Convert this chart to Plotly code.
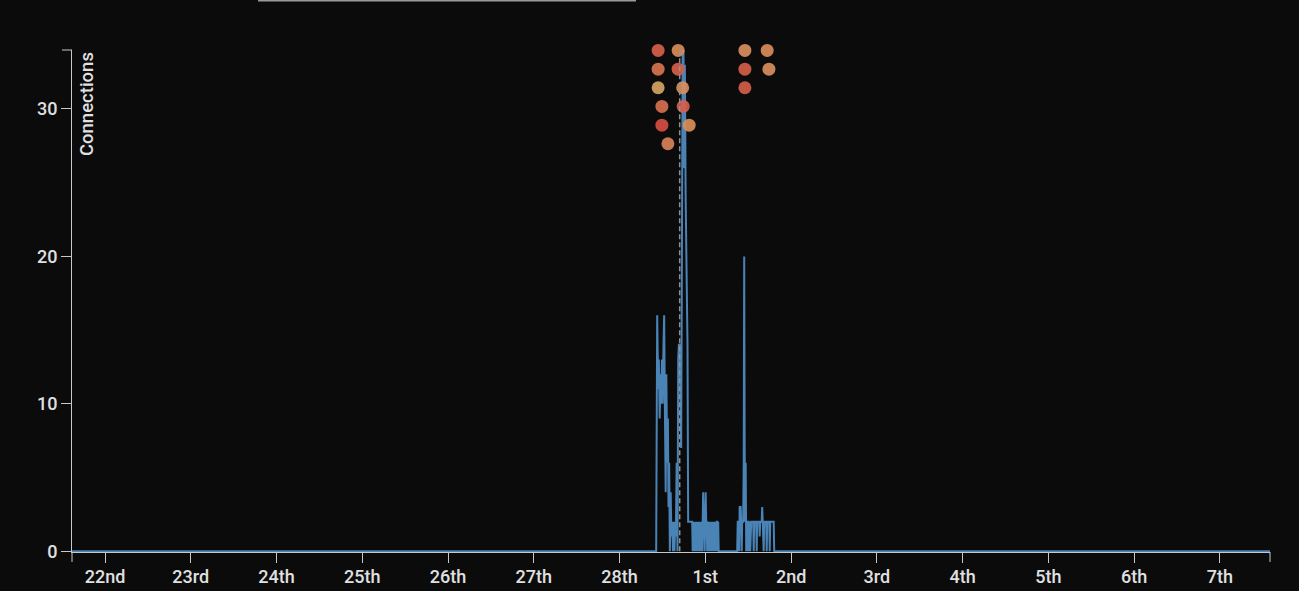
import plotly.graph_objects as go
import pandas as pd

# ---- data ----
series_times = [
    "2023-02-21 14:46",
    "2023-02-28 10:14", "2023-02-28 10:31", "2023-02-28 10:48", "2023-02-28 10:59",
    "2023-02-28 11:13", "2023-02-28 11:26", "2023-02-28 11:38", "2023-02-28 11:51",
    "2023-02-28 12:03", "2023-02-28 12:17", "2023-02-28 12:28", "2023-02-28 12:42",
    "2023-02-28 12:54", "2023-02-28 13:05", "2023-02-28 13:19", "2023-02-28 13:31",
    "2023-02-28 13:41", "2023-02-28 13:52", "2023-02-28 14:04", "2023-02-28 14:18",
    "2023-02-28 14:29", "2023-02-28 14:43", "2023-02-28 14:56", "2023-02-28 15:08",
    "2023-02-28 15:21", "2023-02-28 15:33", "2023-02-28 15:45", "2023-02-28 15:58",
    "2023-02-28 16:12", "2023-02-28 16:24", "2023-02-28 16:35", "2023-02-28 16:49",
    "2023-02-28 17:02", "2023-02-28 17:14", "2023-02-28 17:39", "2023-02-28 17:53",
    "2023-02-28 18:04", "2023-02-28 18:16", "2023-02-28 18:29", "2023-02-28 18:43",
    "2023-02-28 19:00", "2023-02-28 19:11", "2023-02-28 19:30", "2023-02-28 19:50",
    "2023-02-28 20:19", "2023-02-28 20:27", "2023-02-28 20:35", "2023-02-28 20:44",
    "2023-02-28 20:52", "2023-02-28 21:01", "2023-02-28 21:09", "2023-02-28 21:17",
    "2023-02-28 21:26", "2023-02-28 21:34", "2023-02-28 21:43", "2023-02-28 21:51",
    "2023-02-28 21:59", "2023-02-28 22:08", "2023-02-28 22:16", "2023-02-28 22:25",
    "2023-02-28 22:33", "2023-02-28 22:41", "2023-02-28 22:50", "2023-02-28 22:58",
    "2023-02-28 23:07", "2023-02-28 23:15", "2023-02-28 23:23", "2023-02-28 23:32",
    "2023-02-28 23:40", "2023-02-28 23:48", "2023-02-28 23:57", "2023-03-01 00:05",
    "2023-03-01 00:14", "2023-03-01 00:22", "2023-03-01 00:30", "2023-03-01 00:39",
    "2023-03-01 00:47", "2023-03-01 00:56", "2023-03-01 01:04", "2023-03-01 01:12",
    "2023-03-01 01:21", "2023-03-01 01:29", "2023-03-01 01:38", "2023-03-01 01:46",
    "2023-03-01 01:55", "2023-03-01 02:03", "2023-03-01 02:11", "2023-03-01 02:20",
    "2023-03-01 02:28", "2023-03-01 02:36", "2023-03-01 02:45", "2023-03-01 02:53",
    "2023-03-01 03:02", "2023-03-01 03:10", "2023-03-01 03:19", "2023-03-01 03:27",
    "2023-03-01 03:35", "2023-03-01 03:44",
    "2023-03-01 08:54", "2023-03-01 09:03", "2023-03-01 09:20", "2023-03-01 09:28",
    "2023-03-01 09:36", "2023-03-01 09:53", "2023-03-01 10:02", "2023-03-01 10:10",
    "2023-03-01 10:18", "2023-03-01 10:35", "2023-03-01 10:44", "2023-03-01 10:52",
    "2023-03-01 11:00", "2023-03-01 11:09", "2023-03-01 11:17", "2023-03-01 11:26",
    "2023-03-01 11:34", "2023-03-01 11:42", "2023-03-01 11:51", "2023-03-01 12:08",
    "2023-03-01 12:16", "2023-03-01 12:24", "2023-03-01 12:33", "2023-03-01 12:50",
    "2023-03-01 13:06", "2023-03-01 13:23", "2023-03-01 13:32", "2023-03-01 13:40",
    "2023-03-01 13:57", "2023-03-01 14:13", "2023-03-01 14:22", "2023-03-01 14:30",
    "2023-03-01 14:47", "2023-03-01 15:04", "2023-03-01 15:12", "2023-03-01 15:21",
    "2023-03-01 15:46", "2023-03-01 15:54", "2023-03-01 16:03", "2023-03-01 16:19",
    "2023-03-01 16:28", "2023-03-01 16:45", "2023-03-01 17:01", "2023-03-01 17:10",
    "2023-03-01 17:18", "2023-03-01 17:35", "2023-03-01 17:52", "2023-03-01 18:00",
    "2023-03-01 18:09", "2023-03-01 18:30", "2023-03-01 18:50", "2023-03-01 19:07",
    "2023-03-01 19:16",
    "2023-03-07 14:00",
]
connections = [
    0,
    0, 16, 11, 13,
    9, 12, 10, 13,
    10, 14, 16, 9,
    4, 12, 6, 9,
    3, 6, 0, 4,
    1, 2, 0, 2,
    0, 2, 1, 6,
    0, 13, 14, 14,
    7, 7, 34, 34,
    26, 33, 24, 17,
    14, 2, 2, 2,
    2, 0, 2, 2,
    0, 2, 0, 2,
    2, 0, 2, 0,
    2, 2, 0, 2,
    0, 2, 0, 2,
    0, 2, 4, 2,
    2, 0, 2, 4,
    2, 2, 0, 2,
    0, 2, 2, 0,
    2, 0, 2, 2,
    0, 2, 0, 2,
    2, 0, 2, 0,
    2, 2, 2, 0,
    2, 0,
    0, 2, 2, 0,
    3, 3, 2, 0,
    2, 2, 6, 20,
    7, 2, 6, 0,
    2, 0, 2, 2,
    0, 2, 0, 2,
    2, 2, 0, 2,
    2, 2, 0, 2,
    2, 2, 1, 2,
    2, 3, 2, 0,
    2, 2, 2, 0,
    2, 2, 2, 0,
    2, 2, 2, 2,
    0,
    0,
]

event_times = [
    "2023-02-28 10:47", "2023-02-28 16:23", "2023-02-28 10:47", "2023-02-28 16:23",
    "2023-02-28 10:47", "2023-02-28 17:39", "2023-02-28 11:50", "2023-02-28 17:48",
    "2023-02-28 11:50", "2023-02-28 19:28", "2023-02-28 13:31",
    "2023-03-01 11:04", "2023-03-01 17:18", "2023-03-01 11:04", "2023-03-01 17:47",
    "2023-03-01 11:04",
]
event_levels = [33.97, 33.97, 32.7, 32.7, 31.44, 31.44, 30.17, 30.17, 28.9, 28.9, 27.64,
                33.97, 33.97, 32.7, 32.7, 31.44]
event_colors = ["#d5604a", "#d98c5a", "#d7744f", "#d5604a", "#d6a463", "#d98f5e",
                "#d6714f", "#d5604d", "#d44e42", "#d98f5a", "#d8815a",
                "#d98f5e", "#d98c5a", "#d2604a", "#d98f5e", "#d2604a"]

marker_time = "2023-02-28 16:49"

tick_dates = pd.date_range("2023-02-22", "2023-03-07", freq="D")
tick_labels = ["22nd", "23rd", "24th", "25th", "26th", "27th", "28th",
               "1st", "2nd", "3rd", "4th", "5th", "6th", "7th"]
y_ticks = [0, 10, 20, 30]
x_range = ["2023-02-21 14:46", "2023-03-07 14:00"]
y_range = [-0.05, 34]

BG = "#0b0b0b"
AX = "#c8c8c8"
TXT = "#e0e0e0"
FONT = "Roboto"

fig = go.Figure()
fig.add_trace(go.Scatter(
    x=pd.to_datetime(series_times), y=connections, mode="lines",
    line=dict(color="#4a83b6", width=2), hoverinfo="skip", showlegend=False,
))
fig.add_trace(go.Scatter(
    x=pd.to_datetime(event_times), y=event_levels, mode="markers",
    marker=dict(size=13, color=event_colors, opacity=0.92, line=dict(width=0)),
    cliponaxis=False, hoverinfo="skip", showlegend=False,
))

tfont = dict(family=FONT, size=18, color=TXT, weight=500)

fig.update_layout(
    width=1299, height=591,
    margin=dict(l=72, r=29, t=50, b=39),
    paper_bgcolor=BG, plot_bgcolor=BG,
    font=tfont,
    xaxis=dict(
        type="date", range=x_range, tickvals=tick_dates, ticktext=tick_labels,
        showgrid=False, zeroline=False, showline=True, linecolor=AX, linewidth=1,
        ticks="outside", ticklen=10, tickcolor=AX, tickwidth=1,
        tickfont=tfont, automargin=False, ticklabelstandoff=-2,
    ),
    yaxis=dict(
        range=y_range, tickvals=y_ticks, showgrid=False, zeroline=False,
        showline=True, linecolor=AX, linewidth=1,
        ticks="outside", ticklen=10, tickcolor=AX, tickwidth=1,
        tickfont=tfont, automargin=False,
    ),
    annotations=[dict(
        text="Connections", textangle=-90, xref="paper", yref="paper",
        x=0, y=1, xanchor="left", yanchor="top", xshift=2, showarrow=False,
        font=dict(family=FONT, size=18.5, color=TXT, weight=500),
    )],
    shapes=[
        dict(type="line", xref="x", yref="y", x0=marker_time, x1=marker_time,
             y0=0, y1=33.9, line=dict(color="rgba(150,150,150,0.95)", width=1.5, dash="5px,3px"),
             layer="above"),
        dict(type="line", xref="paper", yref="paper", x0=-10 / 1198, x1=0, y0=1, y1=1,
             line=dict(color=AX, width=1)),
        dict(type="line", xref="paper", yref="paper", x0=0, x1=0, y0=0, y1=-10 / 502,
             line=dict(color=AX, width=1)),
        dict(type="line", xref="paper", yref="paper", x0=1, x1=1, y0=0, y1=-10 / 502,
             line=dict(color=AX, width=1)),
        dict(type="line", xref="paper", yref="paper", x0=0.1553, x1=0.4708,
             y0=1.0986, y1=1.0986, line=dict(color="#9a9a9a", width=2)),
    ],
)

fig.write_html(
    "out.html",
    config={"displayModeBar": False},
    post_script="document.body.style.margin='0';document.body.style.background='#0b0b0b';",
)
